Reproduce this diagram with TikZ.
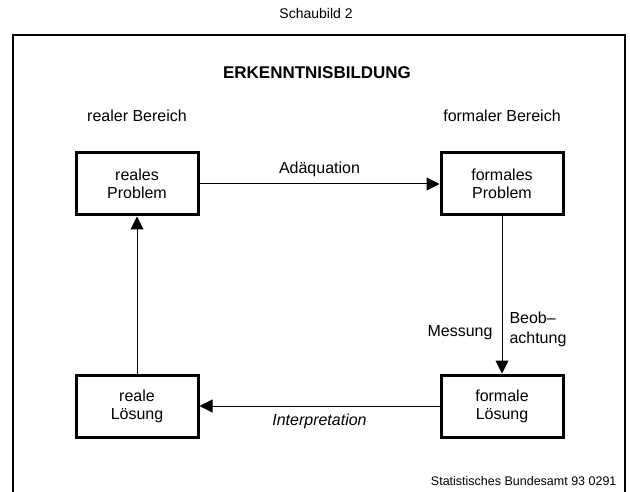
\documentclass[tikz,border=0pt]{standalone}
\usepackage{fontspec}
\setmainfont{Liberation Sans}
\usetikzlibrary{arrows.meta}

\tikzset{
  box/.style={draw, line width=3pt, minimum width=122pt, minimum height=62pt,
    inner sep=0pt, align=center, font=\fontsize{16}{18}\selectfont},
  link/.style={line width=1pt, -{Triangle[length=13pt,width=13pt]}},
  lbl/.style={font=\fontsize{16}{20}\selectfont, inner sep=2pt},
}

\begin{document}
\begin{tikzpicture}[x=10pt,y=-10pt]
        \useasboundingbox (0,0) rectangle (63,49.2);
        % frame
        \draw[line width=1.8pt] (1.3,49.2) -- (1.3,3.5) -- (62.5,3.5) -- (62.5,49.2);
        \node[font=\fontsize{14}{16}\selectfont] (schaubild) at (31.6,1.3) {Schaubild 2};
        \node[font=\fontsize{17}{19}\selectfont\bfseries] (titel) at (31.7,7.3) {ERKENNTNISBILDUNG};
        \node[lbl] (realB) at (13.7,11.6) {realer Bereich};
        \node[lbl] (formB) at (50.2,11.6) {formaler Bereich};
        % boxes
        \node[box] (rp) at (13.7,18.4) {reales\\Problem};
        \node[box] (fp) at (50.2,18.4) {formales\\Problem};
        \node[box] (rl) at (13.7,40.6) {reale\\Lösung};
        \node[box] (fl) at (50.2,40.6) {formale\\Lösung};
        % arrows
        \draw[link] (rp) to node[lbl, above=5pt] {Adäquation} (fp);
        \draw[link] (fp) to node[lbl, pos=0.74, left=7pt] {Messung}
                node[lbl, pos=0.72, right=5pt, align=left] {Beob–\\achtung} (fl);
        \draw[link] (fl) to node[lbl, below=5pt, font=\fontsize{16}{20}\selectfont\itshape] {Interpretation} (rl);
        \draw[link] (rl) to (rp);
        \node[anchor=east, font=\fontsize{12.5}{14}\selectfont] (quelle) at (62.0,48.1) {Statistisches Bundesamt 93 0291};
    \end{tikzpicture}
\end{document}
